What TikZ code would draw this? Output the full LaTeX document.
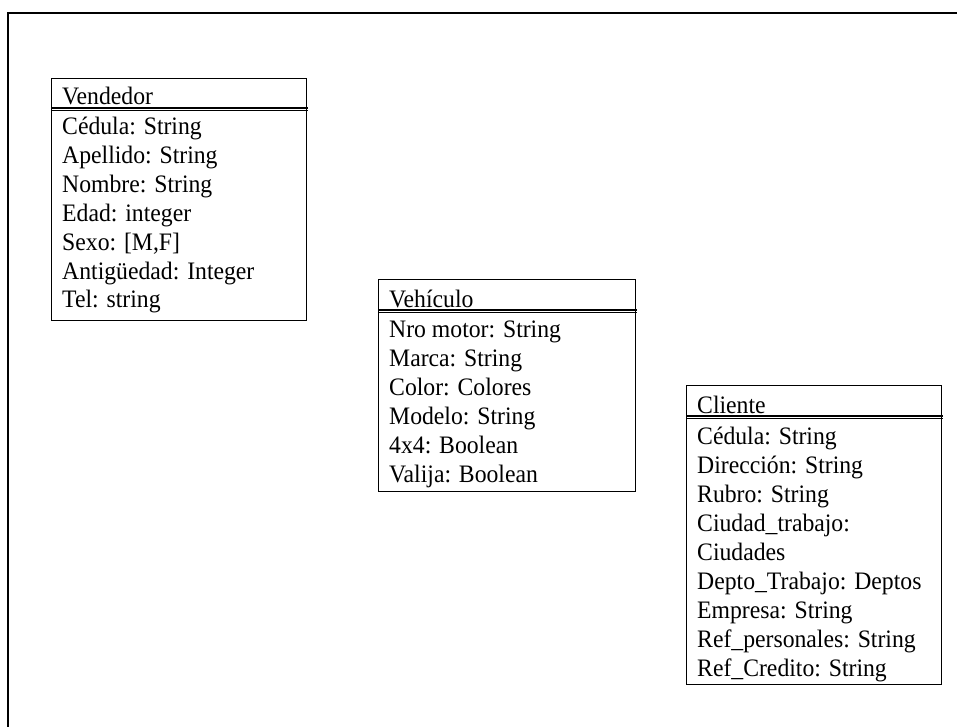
\documentclass[tikz,border=0pt]{standalone}
\usepackage{fontspec}
\setmainfont{Liberation Serif}
\newcommand\cellstretch[1]{\scalebox{1}[1.06]{#1}}
\begin{document}
\begin{tikzpicture}[x=1pt,y=-1pt,
  frame/.style={line width=2.4pt},
  classbox/.style={draw, line width=1pt, inner sep=0pt, anchor=north west},
  septhick/.style={line width=2pt},
  septhin/.style={line width=1pt},
  attr/.style={anchor=base west, inner sep=0pt, font=\fontsize{23.7}{27.4}\selectfont}]
\useasboundingbox (0,0) rectangle (957,727);
\begin{scope}
\clip (0,0) rectangle (957,727);
\draw[frame] (8,740) -- (8,13) -- (970,13);
\end{scope}

% Vendedor
\node[classbox, minimum width=255pt, minimum height=242pt] (vend) at (51,78) {};
\draw[septhick] ([yshift=-30pt]vend.north west) -- ++(257,0);
\draw[septhin] ([yshift=-33pt]vend.north west) -- ++(257,0);
\node[attr] (vendT) at (62,104.5) {\cellstretch{Vendedor}};
\foreach \t [count=\i] in {Cédula: String, Apellido: String, Nombre: String,
  Edad: integer, {Sexo: [M,F]}, Antigüedad: Integer, Tel: string}
  \node[attr] (vend\i) at (62,{134.5+(\i-1)*28.9}) {\cellstretch{\t}};

% Vehículo
\node[classbox, minimum width=257pt, minimum height=212pt] (vehi) at (378,279) {};
\draw[septhick] ([yshift=-30.5pt]vehi.north west) -- ++(259,0);
\draw[septhin] ([yshift=-33.5pt]vehi.north west) -- ++(259,0);
\node[attr] (vehiT) at (389,307) {\cellstretch{Vehículo}};
\foreach \t [count=\i] in {Nro motor: String, Marca: String, Color: Colores,
  Modelo: String, 4x4: Boolean, Valija: Boolean}
  \node[attr] (vehi\i) at (389,{337.5+(\i-1)*29}) {\cellstretch{\t}};

% Cliente
\node[classbox, minimum width=255pt, minimum height=299pt] (clie) at (686,385) {};
\draw[septhick] ([yshift=-30.5pt]clie.north west) -- ++(257,0);
\draw[septhin] ([yshift=-33.5pt]clie.north west) -- ++(257,0);
\node[attr] (clieT) at (697,413) {\cellstretch{Cliente}};
\foreach \t [count=\i] in {Cédula: String, Dirección: String, Rubro: String,
  Ciudad\_trabajo:, Ciudades, Depto\_Trabajo: Deptos, Empresa: String,
  Ref\_personales: String, Ref\_Credito: String}
  \node[attr] (clie\i) at (697,{444+(\i-1)*29}) {\cellstretch{\t}};
\end{tikzpicture}
\end{document}
